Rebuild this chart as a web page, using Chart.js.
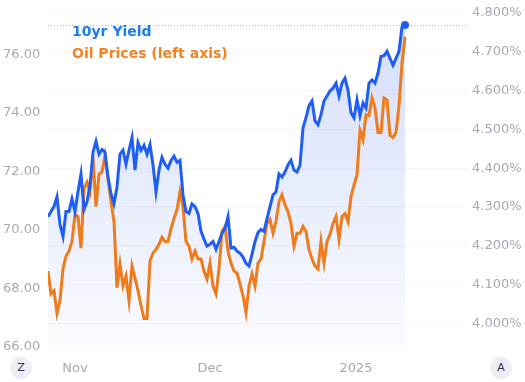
<!DOCTYPE html>
<html>
<head>
<meta charset="utf-8">
<script src="https://cdn.jsdelivr.net/npm/chart.js@4"></script>
<style>
  html, body { margin: 0; padding: 0; background: #fff; }
  #wrap { position: relative; width: 525px; height: 382px; font-family: 'DejaVu Sans', Verdana, sans-serif; }
  .legend { position: absolute; left: 72px; font-weight: bold; font-size: 14px; line-height: 16px; white-space: nowrap; }
  .badge { position: absolute; top: 357px; width: 22px; height: 22px; border-radius: 50%; background: #ededf3; color: #3f2d5c; font-size: 11px; line-height: 22px; text-align: center; }
</style>
</head>
<body>
<div id="wrap">
  <canvas id="chart"></canvas>
  <div class="legend" style="top:23px;color:#1a7cf0">10yr Yield</div>
  <div class="legend" style="top:45px;color:#f5811f">Oil Prices (left axis)</div>
  <div class="badge" style="left:10px">Z</div>
  <div class="badge" style="left:490px">A</div>
</div>
<script>
'use strict';

// one sample roughly every few trading hours, Oct 24 2024 .. Jan 13 2025
const YIELD = [
  4.275, 4.288, 4.301, 4.326, 4.255, 4.224, 4.288, 4.288, 4.321, 4.288,
  4.339, 4.385, 4.293, 4.313, 4.357, 4.441, 4.469, 4.436, 4.448, 4.441,
  4.377, 4.334, 4.308, 4.352, 4.436, 4.446, 4.410, 4.446, 4.479, 4.395,
  4.466, 4.446, 4.459, 4.436, 4.461, 4.408, 4.339, 4.395, 4.428, 4.410,
  4.400, 4.420, 4.431, 4.415, 4.420, 4.331, 4.288, 4.283, 4.308, 4.301,
  4.283, 4.237, 4.217, 4.199, 4.204, 4.211, 4.191, 4.211, 4.232, 4.245,
  4.275, 4.194, 4.196, 4.186, 4.181, 4.171, 4.155, 4.148, 4.178, 4.211,
  4.234, 4.242, 4.237, 4.270, 4.301, 4.331, 4.339, 4.385, 4.377, 4.390,
  4.408, 4.420, 4.395, 4.390, 4.408, 4.504, 4.530, 4.561, 4.573, 4.522,
  4.512, 4.538, 4.573, 4.586, 4.599, 4.606, 4.619, 4.586, 4.619, 4.632,
  4.601, 4.543, 4.530, 4.576, 4.535, 4.568, 4.555, 4.619, 4.627, 4.619,
  4.645, 4.688, 4.690, 4.701, 4.683, 4.665, 4.683, 4.701, 4.764, 4.769
];

const OIL = [
  68.60, 67.82, 67.93, 67.15, 67.59, 68.67, 69.11, 69.28, 69.61, 70.53,
  70.46, 69.38, 71.41, 71.64, 71.30, 72.49, 70.80, 71.91, 71.98, 72.55,
  71.74, 70.97, 70.29, 68.03, 68.84, 68.09, 68.43, 67.59, 68.77, 68.36,
  67.93, 67.42, 66.98, 66.98, 68.94, 69.21, 69.34, 69.51, 69.75, 69.61,
  69.61, 70.05, 70.39, 70.70, 71.30, 70.80, 69.61, 69.45, 69.01, 69.28,
  69.01, 69.01, 68.60, 68.33, 68.87, 68.09, 67.82, 68.67, 69.95, 70.12,
  69.28, 68.87, 68.60, 68.53, 68.16, 67.76, 67.18, 68.09, 68.50, 68.09,
  68.87, 69.01, 69.61, 70.22, 70.36, 69.89, 70.29, 70.97, 71.20, 70.86,
  70.63, 70.22, 69.45, 69.89, 69.89, 70.12, 69.95, 69.34, 69.01, 68.77,
  68.67, 69.61, 68.87, 69.61, 69.85, 70.22, 70.46, 69.68, 70.46, 70.56,
  70.29, 71.14, 71.54, 71.88, 73.40, 73.09, 73.94, 73.91, 74.51, 74.18,
  73.33, 73.33, 74.51, 74.45, 73.23, 73.16, 73.33, 74.24, 75.70, 76.61
];

const X_TICK_AT = [9, 54, 102.7];
const X_TICK_LABELS = ['Nov', 'Dec', '2025'];
const OIL_TICKS = [66, 68, 70, 72, 74, 76];
const YIELD_TICKS = [4.0, 4.1, 4.2, 4.3, 4.4, 4.5, 4.6, 4.7, 4.8];

const BLUE = '#1f5ef4';
const ORANGE = '#ee7b1c';
const TICK_COLOR = '#a9a9b6';

Chart.defaults.font.family = "'DejaVu Sans', Verdana, sans-serif";

const toPoints = arr => arr.map((v, i) => ({ x: i, y: v }));

// let tick labels hang over the edges instead of shrinking the plot
function noPadding(scale, size) {
  if (scale.isHorizontal()) scale.height = size;
  else scale.width = size;
  scale.paddingTop = 0;
  scale.paddingBottom = 0;
  scale.paddingLeft = 0;
  scale.paddingRight = 0;
}

// dotted guide at the latest yield level
const lastValueLine = {
  id: 'lastValueLine',
  beforeDatasetsDraw(chart) {
    const area = chart.chartArea;
    const y = Math.round(chart.scales.yYield.getPixelForValue(YIELD[YIELD.length - 1])) + 0.5;
    const ctx = chart.ctx;
    ctx.save();
    ctx.setLineDash([1, 2]);
    ctx.strokeStyle = '#a3b3ee';
    ctx.lineWidth = 1;
    ctx.beginPath();
    ctx.moveTo(area.left, y);
    ctx.lineTo(area.right, y);
    ctx.stroke();
    ctx.restore();
  }
};

function fillGradient(context) {
  const area = context.chart.chartArea;
  if (!area) return 'rgba(0,0,0,0)';
  const g = context.chart.ctx.createLinearGradient(0, area.top, 0, area.bottom);
  g.addColorStop(0, 'rgba(70,110,235,0.24)');
  g.addColorStop(1, 'rgba(70,110,235,0.02)');
  return g;
}

new Chart(document.getElementById('chart'), {
  type: 'line',
  data: {
    datasets: [
      {
        label: '10yr Yield',
        data: toPoints(YIELD),
        yAxisID: 'yYield',
        borderColor: BLUE,
        borderWidth: 3,
        backgroundColor: fillGradient,
        fill: 'start',
        tension: 0,
        pointRadius: c => (c.dataIndex === YIELD.length - 1 ? 4 : 0),
        pointBackgroundColor: BLUE,
        pointBorderWidth: 0
      },
      {
        label: 'Oil Prices (left axis)',
        data: toPoints(OIL),
        yAxisID: 'yOil',
        borderColor: ORANGE,
        borderWidth: 3,
        fill: false,
        tension: 0,
        pointRadius: 0
      }
    ]
  },
  options: {
    responsive: true,
    maintainAspectRatio: false,
    animation: false,
    layout: { padding: { left: 3, right: 0, top: 0, bottom: 0 } },
    plugins: {
      legend: { display: false },
      tooltip: { enabled: false },
      filler: { drawTime: 'beforeDatasetsDraw' }
    },
    scales: {
      x: {
        type: 'linear',
        min: 0,
        max: 140,
        grid: { display: false, drawTicks: false },
        border: { display: false },
        afterBuildTicks: s => { s.ticks = X_TICK_AT.map(v => ({ value: v })); },
        afterFit: s => noPadding(s, 27),
        ticks: {
          autoSkip: false,
          maxRotation: 0,
          padding: 6,
          color: TICK_COLOR,
          font: { size: 13 },
          callback: (v, i) => X_TICK_LABELS[i]
        }
      },
      yOil: {
        position: 'left',
        min: 65.73,
        max: 77.723,
        grid: { display: false, drawTicks: false },
        border: { display: false },
        afterBuildTicks: s => { s.ticks = OIL_TICKS.map(v => ({ value: v })); },
        afterFit: s => noPadding(s, 45),
        ticks: {
          crossAlign: 'far',
          padding: 0,
          color: TICK_COLOR,
          font: { size: 13 },
          callback: v => Number(v).toFixed(2)
        }
      },
      yYield: {
        position: 'right',
        min: 3.9185,
        max: 4.8229,
        grid: { color: 'rgba(40,40,110,0.045)', drawTicks: false },
        border: { display: false },
        afterBuildTicks: s => { s.ticks = YIELD_TICKS.map(v => ({ value: v })); },
        afterFit: s => noPadding(s, 57),
        ticks: {
          padding: 4,
          color: TICK_COLOR,
          font: { size: 13 },
          callback: v => Number(v).toFixed(3) + '%'
        }
      }
    }
  },
  plugins: [lastValueLine]
});
</script>
</body>
</html>
